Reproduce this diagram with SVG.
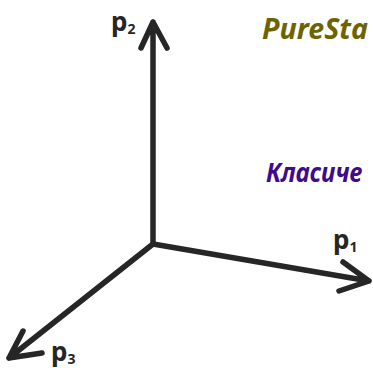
<svg xmlns="http://www.w3.org/2000/svg" width="373" height="371" viewBox="0 0 373 371">
<style>
.ax{fill:none;stroke:#262626;stroke-width:5.5;stroke-linecap:round;stroke-linejoin:round}
.lbl{font-family:"Noto Sans","DejaVu Sans",sans-serif;fill:#262626;font-size:26px;font-weight:bold}
.sub{font-size:14px}
.t{font-family:"Noto Sans","DejaVu Sans",sans-serif;font-style:italic;font-weight:bold}
</style>
<rect width="373" height="371" fill="#ffffff"/>
<g id="axes">
<path class="ax" d="M153,244 L153,22 M141,48 L153,22 L167,48"/>
<path class="ax" d="M153,244 L369,281 M343,262 L369,281 L339,291"/>
<path class="ax" d="M153,244 L9,358 M23,331 L9,358 L42,353"/>
</g>
<g id="p2"><text class="lbl" x="111" y="31">p<tspan class="sub" dy="3">2</tspan></text></g>
<g id="p1"><text class="lbl" x="333" y="249">p<tspan class="sub" dy="3">1</tspan></text></g>
<g id="p3"><text class="lbl" x="51" y="361">p<tspan class="sub" dy="3">3</tspan></text></g>
<g id="pure"><text class="t" x="262" y="39" fill="#6b6400" font-size="28" textLength="106" lengthAdjust="spacingAndGlyphs">PureSta</text></g>
<g id="klas"><text class="t" x="266" y="182" fill="#3f0a8c" font-size="26" textLength="96" lengthAdjust="spacingAndGlyphs">Класиче</text></g>
</svg>
